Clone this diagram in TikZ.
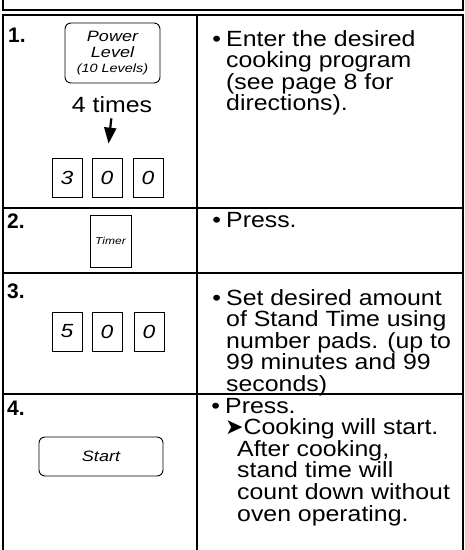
\documentclass[tikz,border=0pt]{standalone}
\usepackage{fontspec}
\setmainfont{Liberation Sans}
\newfontfamily\bodyfont[FakeStretch=1.13]{Liberation Sans}
\newfontfamily\keyfont[FakeStretch=1.2]{Liberation Sans}
\newfontfamily\symfont{DejaVu Sans}
\usetikzlibrary{arrows.meta}
\newcommand{\bul}{\noindent\llap{\textbullet\hspace{5pt}}}
\begin{document}
\begin{tikzpicture}[x=1pt,y=-1pt,
  rule/.style={line width=1.5pt},
  keybox/.style={draw, line width=0.9pt, inner sep=0pt, font=\keyfont\itshape\fontsize{19}{20}\selectfont},
  numkey/.style={keybox, minimum width=30pt, minimum height=39pt},
  body/.style={anchor=base west, inner sep=0pt, font=\bodyfont\fontsize{22}{21.6}\selectfont},
  stepnum/.style={anchor=base west, inner sep=0pt, font=\bfseries\fontsize{21}{21}\selectfont}]
\useasboundingbox (0,0) rectangle (465,550);
% header box remnant
\draw[rule] (3,0) -- (3,10) -- (463,10) -- (463,0);
% table
\draw[rule] (3,550) -- (3,15) -- (463,15) -- (463,550);
\draw[rule] (197,15) -- (197,550);
\draw[rule] (3,208) -- (463,208);
\draw[rule] (3,273) -- (463,273);
\draw[rule] (3,394) -- (463,394);
% step numbers
\node[stepnum] (n1) at (8,42) {1.};
\node[stepnum] (n2) at (7,228) {2.};
\node[stepnum] (n3) at (7,298) {3.};
\node[stepnum] (n4) at (7,415) {4.};
% row 1
\node[keybox, rounded corners=6pt, minimum width=95pt, minimum height=60pt, align=center,
      font=\keyfont\itshape\fontsize{15}{16}\selectfont] (power) at (112.5,53)
  {Power\\Level\\[-1pt]{\fontsize{12}{14}\selectfont (10 Levels)}};
\node[anchor=base, inner sep=0pt, font=\bodyfont\fontsize{22}{22}\selectfont] (times) at (112,112) {4 times};
\node[numkey] (k1) at (67,177.5) {3};
\node[numkey] (k2) at (107,177.5) {0};
\node[numkey] (k3) at (148,177.5) {0};
\draw[line width=2.2pt, -{Triangle[width=12pt,length=16pt]}, shorten <=6pt, shorten >=14pt] (times.south) -- (k2.north);
\node[body] (t1) at (226,46) {\parbox[t]{235pt}{\bul Enter the desired\\cooking program\\(see page 8 for\\directions).}};
% row 2
\node[keybox, minimum width=41pt, minimum height=52pt, font=\keyfont\itshape\fontsize{10}{12}\selectfont] (timer) at (110.5,241) {Timer};
\node[body] (t2) at (226,227) {\parbox[t]{235pt}{\bul Press.}};
% row 3
\node[numkey] (m1) at (67,331.5) {5};
\node[numkey] (m2) at (107,331.5) {0};
\node[numkey] (m3) at (149,331.5) {0};
\node[body] (t3) at (226,305) {\parbox[t]{235pt}{\bul Set desired amount\\of Stand Time using\\number pads. (up to\\99 minutes and 99\\seconds)}};
% row 4
\node[keybox, rounded corners=6pt, minimum width=124pt, minimum height=39pt, font=\keyfont\itshape\fontsize{15}{16}\selectfont] (start) at (101,456.5) {Start};
\node[body] (t4) at (225,413) {\parbox[t]{235pt}{\bul Press.\\{\symfont ➤}Cooking will start.\\\hspace*{12pt}After cooking,\\\hspace*{12pt}stand time will\\\hspace*{12pt}count down without\\\hspace*{12pt}oven operating.}};
\end{tikzpicture}
\end{document}
